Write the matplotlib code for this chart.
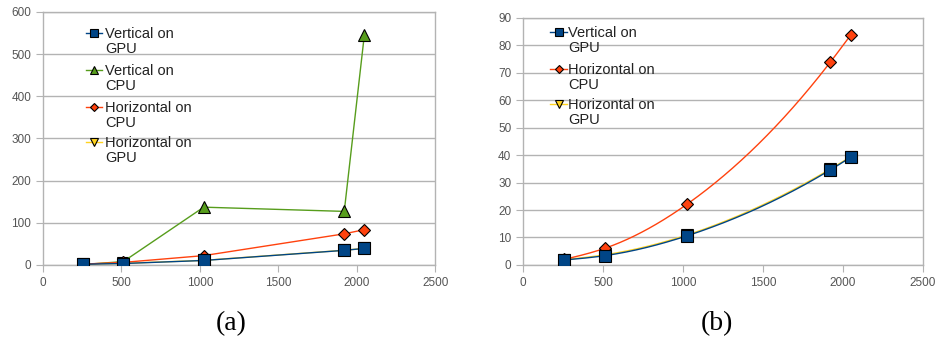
import numpy as np
import matplotlib
matplotlib.use("Agg")
import matplotlib.pyplot as plt
from matplotlib.transforms import offset_copy

# Image sizes (pixels) and timings
sizes = [256, 512, 1024, 1920, 2048]

vert_gpu = [1.8, 3.4, 10.6, 34.6, 39.2]
vert_cpu = [1.0, 8.0, 137.0, 127.0, 545.0]
horiz_cpu = [2.0, 6.1, 22.1, 73.8, 83.7]
horiz_gpu = [1.9, 3.7, 10.9, 34.9, 39.4]

labels_a = ["Vertical on\nGPU", "Vertical on\nCPU", "Horizontal on\nCPU", "Horizontal on\nGPU"]
labels_b = ["Vertical on\nGPU", "Horizontal on\nCPU", "Horizontal on\nGPU"]

BLUE = "#004586"
GREEN = "#579D1C"
RED = "#FF420E"
YELLOW = "#FFD320"

plt.rcParams["font.family"] = ["Liberation Sans", "DejaVu Sans"]

MK = dict(markeredgecolor="black", markeredgewidth=0.8)


def natural_spline(x, y, n=200):
    x = np.asarray(x, float)
    y = np.asarray(y, float)
    m = len(x)
    h = np.diff(x)
    A = np.zeros((m, m))
    r = np.zeros(m)
    A[0, 0] = A[-1, -1] = 1.0
    for i in range(1, m - 1):
        A[i, i - 1] = h[i - 1]
        A[i, i] = 2 * (h[i - 1] + h[i])
        A[i, i + 1] = h[i]
        r[i] = 3 * ((y[i + 1] - y[i]) / h[i] - (y[i] - y[i - 1]) / h[i - 1])
    c = np.linalg.solve(A, r)
    xs = np.linspace(x[0], x[-1], n)
    ys = np.empty_like(xs)
    for k, xv in enumerate(xs):
        i = min(np.searchsorted(x, xv, side="right") - 1, m - 2)
        dx = xv - x[i]
        b = (y[i + 1] - y[i]) / h[i] - h[i] * (2 * c[i] + c[i + 1]) / 3
        d = (c[i + 1] - c[i]) / (3 * h[i])
        ys[k] = y[i] + b * dx + c[i] * dx ** 2 + d * dx ** 3
    return xs, ys


def style_axes(ax, ymax, ystep):
    ax.set_xlim(0, 2500)
    ax.set_ylim(0, ymax)
    ax.set_xticks(np.arange(0, 2501, 500))
    ax.set_yticks(np.arange(0, ymax + 1, ystep))
    ax.grid(axis="y", color="#b3b3b3", linewidth=1.0)
    ax.set_axisbelow(True)
    for s in ax.spines.values():
        s.set_color("#b3b3b3")
        s.set_linewidth(1.0)
    ax.tick_params(axis="both", colors="#b3b3b3", labelcolor="#555555",
                   labelsize=8.5, length=5, direction="out")


def draw_key(ax, entries, x0, x1, xt, ys):
    """Key with the symbol beside the first line of each two-line label."""
    for (label, color, marker, ms), y in zip(entries, ys):
        ax.plot([x0, x1], [y, y], color=color, lw=1, transform=ax.transAxes,
                clip_on=False, zorder=6)
        ax.plot([(x0 + x1) / 2], [y], ls="none", color=color, marker=marker,
                markersize=ms, transform=ax.transAxes, clip_on=False, zorder=7, **MK)
        tr = offset_copy(ax.transAxes, fig=ax.figure, y=6, units="dots")
        ax.text(xt, y, label, transform=tr, ha="left", va="top", fontsize=10.5,
                color="#222222", linespacing=1.12, zorder=7)


fig = plt.figure(figsize=(9.36, 3.5), dpi=100)

# Panel (a): straight segments
ax1 = fig.add_axes([0.046, 0.243, 0.419, 0.723])
style_axes(ax1, 600, 100)
ax1.plot(sizes, horiz_gpu, color=YELLOW, marker="v", markersize=8, lw=1, zorder=2, **MK)
ax1.plot(sizes, vert_cpu, color=GREEN, marker="^", markersize=9, lw=1, zorder=3, **MK)
ax1.plot(sizes, horiz_cpu, color=RED, marker="D", markersize=6.5, lw=1, zorder=4, **MK)
ax1.plot(sizes, vert_gpu, color=BLUE, marker="s", markersize=8.5, lw=1, zorder=5, **MK)
draw_key(ax1,
         [(labels_a[0], BLUE, "s", 5.5), (labels_a[1], GREEN, "^", 6),
          (labels_a[2], RED, "D", 4.5), (labels_a[3], YELLOW, "v", 6)],
         0.110, 0.150, 0.158, [0.917, 0.771, 0.625, 0.486])

# Panel (b): smoothed curves through the measurements
ax2 = fig.add_axes([0.559, 0.243, 0.427, 0.706])
style_axes(ax2, 90, 10)
for vals, color, marker, ms, z in [
    (horiz_gpu, YELLOW, "v", 8, 2),
    (horiz_cpu, RED, "D", 6.5, 3),
    (vert_gpu, BLUE, "s", 8.5, 5),
]:
    xs, ys = natural_spline(sizes, vals)
    ax2.plot(xs, ys, color=color, lw=1, zorder=z)
    ax2.plot(sizes, vals, ls="none", color=color, marker=marker, markersize=ms, zorder=z, **MK)
draw_key(ax2,
         [(labels_b[0], BLUE, "s", 5.5), (labels_b[1], RED, "D", 4.5),
          (labels_b[2], YELLOW, "v", 6)],
         0.0675, 0.11, 0.1125, [0.943, 0.794, 0.652])

serif = ["Liberation Serif", "DejaVu Serif"]
fig.text(231 / 936, 1 - 324 / 350, "(a)", ha="center", va="center", fontsize=20, family=serif)
fig.text(717 / 936, 1 - 324 / 350, "(b)", ha="center", va="center", fontsize=20, family=serif)

fig.savefig("out.png", dpi=100)
